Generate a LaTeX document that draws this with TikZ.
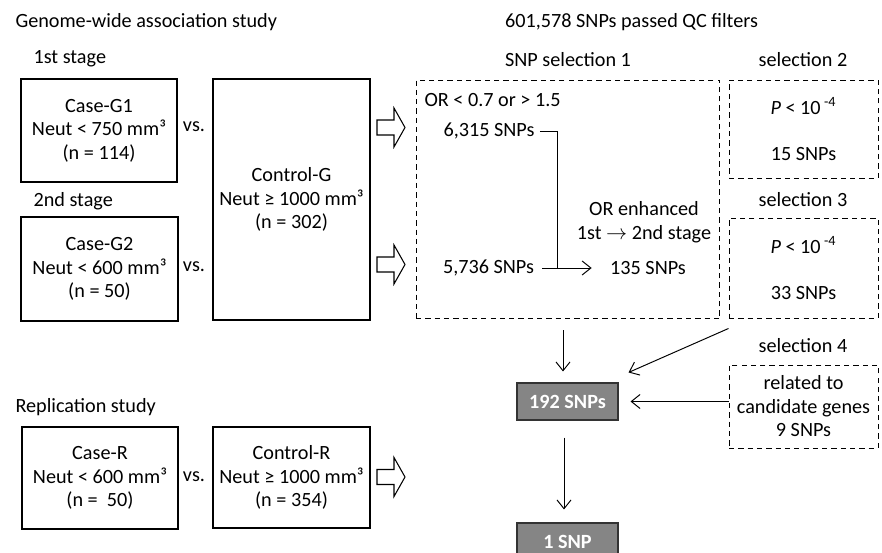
\documentclass[tikz,border=0pt]{standalone}
\usepackage{fontspec}
\setmainfont{Carlito}
\usetikzlibrary{arrows.meta}
\newcommand{\fatarrow}[2]{\draw (#1,#2) ++(0,-7.5) -- ++(17,0) -- ++(0,-12) -- ++(11,19.5)
   -- ++(-11,19.5) -- ++(0,-12) -- ++(-17,0) -- cycle;}

\begin{document}
\begin{tikzpicture}[x=0.02cm,y=-0.02cm,line width=0.6pt,
   every node/.style={font=\fontsize{11.5}{13.4}\selectfont,inner sep=0pt},
   box/.style={draw,align=center},
   dbox/.style={draw,dash pattern=on 3pt off 2.3pt,line width=0.55pt,align=center},
   gbox/.style={draw=black!80,fill=black!48,text=white,font=\fontsize{11.5}{13.4}\selectfont\bfseries,
      minimum width=2.02cm,minimum height=0.74cm},
   arr/.style={-{Straight Barb[length=5pt,width=8pt]},line width=0.55pt}]
   \clip (0,0) rectangle (882,553);
   % headings
   \node[anchor=west] (gwas) at (15,22) {Genome-wide association study};
   \node[anchor=west] (stage1) at (33,59) {1st stage};
   \node[anchor=west] (stage2) at (33,201) {2nd stage};
   \node[anchor=west] (repl) at (15,407) {Replication study};
   \node (qc) at (631.5,22) {601,578 SNPs passed QC filters};
   \node (sel1lab) at (568,60) {SNP selection 1};
   \node (sel2lab) at (803,60) {selection 2};
   \node (sel3lab) at (803,200) {selection 3};
   \node (sel4lab) at (803,346) {selection 4};
   % groups
   \node[box,minimum width=3.12cm,minimum height=2.06cm] (caseg1) at (99,130.5)
      {Case-G1\\Neut < 750 mm³\\(n = 114)};
   \node[box,minimum width=3.14cm,minimum height=2.08cm] (caseg2) at (99.5,269)
      {Case-G2\\Neut < 600 mm³\\(n = 50)};
   \node[box,minimum width=3.14cm,minimum height=4.82cm] (controlg) at (291.5,199.5)
      {Control-G\\Neut ≥ 1000 mm³\\(n = 302)};
   \node[box,minimum width=3.12cm,minimum height=2.04cm] (caser) at (100,478)
      {Case-R\\Neut < 600 mm³\\(n =\ \ 50)};
   \node[box,minimum width=3.14cm,minimum height=2.02cm] (controlr) at (291.5,477.5)
      {Control-R\\Neut ≥ 1000 mm³\\(n = 354)};
   \node (vs1) at (194,127) {vs.};
   \node (vs2) at (194,267) {vs.};
   \node (vs3) at (194,477) {vs.};
   \fatarrow{377}{127.5}
   \fatarrow{377}{264.5}
   \fatarrow{377}{477}
   % selections
   \node[dbox,minimum width=6.08cm,minimum height=4.78cm] (sel1) at (568,199.5) {};
   \node[anchor=west] (orcut) at (424,100) {OR < 0.7 or > 1.5};
   \node (s6315) at (489,131) {6,315 SNPs};
   \node (s5736) at (488.5,268) {5,736 SNPs};
   \node (s135) at (648,268) {135 SNPs};
   \node[align=center] (enh) at (644,222) {OR enhanced\\1st $\rightarrow$ 2nd stage};
   \coordinate (join) at (557,268);
   \draw[line width=0.55pt,shorten <=0.1cm] (s6315.east) -| (join);
   \draw[arr,shorten <=0.16cm,shorten >=0.36cm] (s5736.east) -- (s135.west);
   \node[dbox,minimum width=2.98cm,minimum height=1.96cm] (sel2) at (803.5,129)
      {\textit{P} < 10\,\textsuperscript{-4}\\[13pt]15 SNPs};
   \node[dbox,minimum width=2.98cm,minimum height=2.0cm] (sel3) at (803.5,268)
      {\textit{P} < 10\,\textsuperscript{-4}\\[13pt]33 SNPs};
   \node[dbox,minimum width=2.98cm,minimum height=1.66cm] (sel4) at (803.5,406.5)
      {related to\\candidate genes\\9 SNPs};
   % results
   \node[gbox] (snp192) at (567.5,401.5) {192 SNPs};
   \node[gbox] (snp1) at (567.5,541.5) {1 SNP};
   \draw[arr,shorten <=0.22cm,shorten >=0.22cm] (sel1.south -| 563,0) -- (snp192.north -| 563,0);
   \draw[arr] ([yshift=-0.2cm]sel3.south west) -- ([xshift=0.2cm,yshift=0.2cm]snp192.north east);
   \draw[arr,shorten >=0.24cm] (snp192.east -| sel4.west) -- (snp192.east);
   \draw[arr,shorten <=0.34cm,shorten >=0.26cm] (snp192.south -| 564,0) -- (snp1.north -| 564,0);
\end{tikzpicture}
\end{document}
